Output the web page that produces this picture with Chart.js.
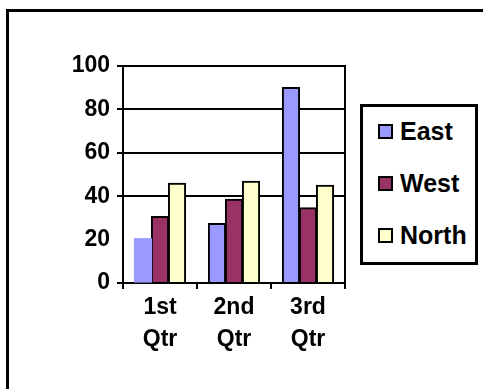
<!DOCTYPE html>
<html>
<head>
<meta charset="utf-8">
<script src="https://cdn.jsdelivr.net/npm/chart.js@4/dist/chart.umd.min.js"></script>
<style>
  html, body { margin: 0; padding: 0; background: #fff; overflow: hidden; }
  #wrap { position: relative; width: 483px; height: 389px; }
  #frame { position: absolute; left: 6px; top: 9px; width: 600px; height: 500px; border: 3px solid #000; box-sizing: border-box; }
  canvas { position: absolute; left: 0; top: 0; }
  #legend { position: absolute; left: 360px; top: 104px; width: 118px; height: 161px; border: 3px solid #000; box-sizing: border-box; background: #fff;
            font-family: "Liberation Sans", Arial, sans-serif; font-weight: bold; font-size: 25px; color: #000; }
  .item { position: absolute; left: 15px; height: 52px; display: flex; align-items: center; white-space: nowrap; }
  .sw { width: 15px; height: 15px; border: 2px solid #000; box-sizing: border-box; margin-right: 7px; }
</style>
</head>
<body>
<div id="wrap">
  <div id="frame"></div>
  <canvas id="c" width="483" height="389"></canvas>
  <div id="legend"></div>
</div>
<script>
const categories = [["1st", "Qtr"], ["2nd", "Qtr"], ["3rd", "Qtr"]];
const seriesNames = ["East", "West", "North"];
const east = [20.4, 27.4, 90];
const west = [30.6, 38.6, 34.6];
const north = [45.9, 46.9, 45];
const yTicks = [0, 20, 40, 60, 80, 100];
const colors = ["#9999FF", "#993366", "#FFFFCC"];

const font = { family: "'Liberation Sans', Arial, sans-serif", weight: "bold", size: 23 };
const xFont = { family: "'Liberation Sans', Arial, sans-serif", weight: "bold", size: 23, lineHeight: 32 / 23 };

const frameBox = {
  id: "frameBox",
  afterDraw(chart) {
    const a = chart.chartArea, ctx = chart.ctx;
    ctx.save();
    ctx.strokeStyle = "#000";
    ctx.lineWidth = 2;
    ctx.beginPath();
    ctx.moveTo(a.left, a.top);
    ctx.lineTo(a.right, a.top);
    ctx.lineTo(a.right, a.bottom);
    ctx.stroke();
    ctx.restore();
  }
};

const barStyle = { borderColor: "#000", barPercentage: 1.0, categoryPercentage: 0.69, inflateAmount: 0.6 };

const chart = new Chart(document.getElementById("c"), {
  type: "bar",
  data: {
    labels: categories,
    datasets: [
      Object.assign({ label: seriesNames[0], data: east, backgroundColor: colors[0], borderWidth: [0, 2, 2] }, barStyle),
      Object.assign({ label: seriesNames[1], data: west, backgroundColor: colors[1], borderWidth: 2 }, barStyle),
      Object.assign({ label: seriesNames[2], data: north, backgroundColor: colors[2], borderWidth: 2 }, barStyle)
    ]
  },
  options: {
    responsive: false,
    animation: false,
    devicePixelRatio: 1,
    layout: { padding: { top: 66, right: 138, left: 0, bottom: 0 } },
    plugins: { legend: { display: false }, tooltip: { enabled: false } },
    scales: {
      x: {
        offset: true,
        grid: { drawOnChartArea: false, drawTicks: true, tickLength: 6, color: "#000", lineWidth: 2, offset: true },
        border: { display: true, color: "#000", width: 2 },
        ticks: { color: "#000", font: xFont, padding: 3, maxRotation: 0, autoSkip: false },
        afterFit(s) { s.height = 106; }
      },
      y: {
        min: 0, max: 100,
        afterBuildTicks(s) { s.ticks = yTicks.map(v => ({ value: v })); },
        grid: {
          color: (ctx) => (ctx.tick && ctx.tick.value === 20) ? "rgba(0,0,0,0)" : "#000",
          lineWidth: 2, tickLength: 6, drawTicks: true
        },
        border: { display: true, color: "#000", width: 2 },
        ticks: { color: "#000", font: font, padding: 7 },
        afterFit(s) { s.width = 123; }
      }
    }
  },
  plugins: [frameBox]
});

// HTML legend built from the datasets
const leg = document.getElementById("legend");
chart.data.datasets.forEach((ds, i) => {
  const it = document.createElement("div");
  it.className = "item";
  it.style.top = (-2 + i * 52) + "px";
  const sw = document.createElement("span");
  sw.className = "sw";
  sw.style.background = ds.backgroundColor;
  const tx = document.createElement("span");
  tx.textContent = ds.label;
  it.appendChild(sw);
  it.appendChild(tx);
  leg.appendChild(it);
});
</script>
</body>
</html>
